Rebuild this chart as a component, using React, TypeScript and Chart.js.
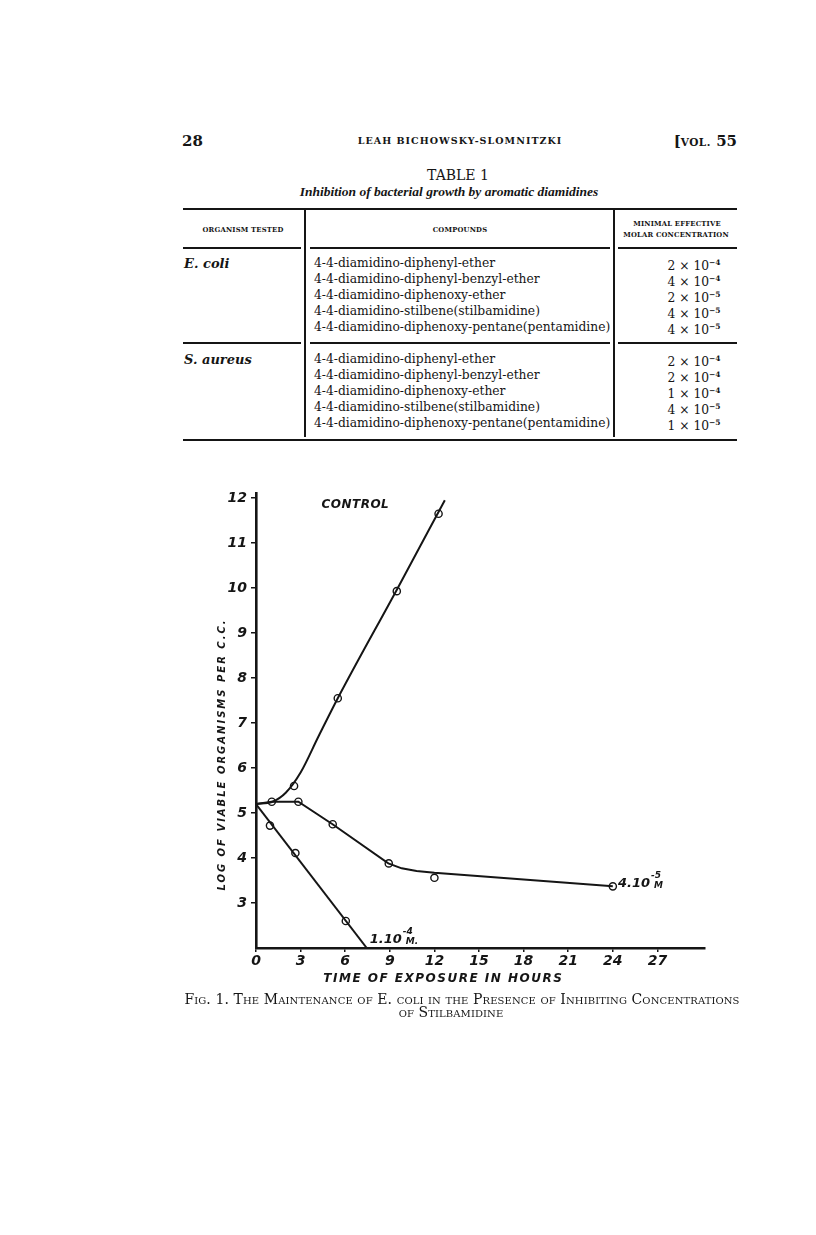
import React, { useEffect, useRef } from "react";
import { Chart, registerables } from "chart.js";

Chart.register(...registerables);

// ---------------- page & table content ----------------
const PAGE_NUMBER = "28";
const RUNNING_HEAD = "LEAH BICHOWSKY-SLOMNITZKI";
const VOLUME = "55";
const TABLE_TITLE = "TABLE 1";
const TABLE_CAPTION = "Inhibition of bacterial growth by aromatic diamidines";
const HEAD_ORGANISM = "ORGANISM TESTED";
const HEAD_COMPOUNDS = "COMPOUNDS";
const HEAD_CONC_1 = "MINIMAL EFFECTIVE";
const HEAD_CONC_2 = "MOLAR CONCENTRATION";
const ORGANISMS = ["E. coli", "S. aureus"];
const COMPOUNDS = [
  "4-4-diamidino-diphenyl-ether",
  "4-4-diamidino-diphenyl-benzyl-ether",
  "4-4-diamidino-diphenoxy-ether",
  "4-4-diamidino-stilbene(stilbamidine)",
  "4-4-diamidino-diphenoxy-pentane(pentamidine)",
];
const E_COLI_COEF = ["2", "4", "2", "4", "4"];
const E_COLI_EXP = ["4", "4", "5", "5", "5"];
const S_AUREUS_COEF = ["2", "2", "1", "4", "1"];
const S_AUREUS_EXP = ["4", "4", "4", "5", "5"];
const FIG_CAPTION_1 = "Fig. 1. The Maintenance of E. coli in the Presence of Inhibiting Concentrations";
const FIG_CAPTION_2 = "of Stilbamidine";

// ---------------- figure data ----------------
const X_TICKS = [0, 3, 6, 9, 12, 15, 18, 21, 24, 27];
const Y_TICKS = [3, 4, 5, 6, 7, 8, 9, 10, 11, 12];
const X_TITLE = "TIME OF EXPOSURE IN HOURS";
const Y_TITLE = "LOG OF VIABLE ORGANISMS PER C.C.";

// control: drawn curve and observed points
const CONTROL_LINE_X = [0, 1.1, 2.0, 3.0, 4.2, 5.5, 9.5, 12.7];
const CONTROL_LINE_Y = [5.2, 5.25, 5.45, 5.9, 6.7, 7.55, 9.98, 11.95];
const CONTROL_OBS_X = [1.06, 2.56, 5.5, 9.47, 12.28];
const CONTROL_OBS_Y = [5.25, 5.6, 7.55, 9.93, 11.65];

// 4.10^-5 M
const LOW_LINE_X = [0, 1.06, 2.85, 5.15, 8.9, 9.8, 10.8, 12.0, 24.0];
const LOW_LINE_Y = [5.2, 5.25, 5.25, 4.75, 3.88, 3.77, 3.71, 3.67, 3.37];
const LOW_OBS_X = [2.85, 5.16, 8.93, 12.0, 24.0];
const LOW_OBS_Y = [5.25, 4.75, 3.88, 3.56, 3.37];

// 1.10^-4 M
const HIGH_LINE_X = [0, 7.45];
const HIGH_LINE_Y = [5.2, 2.0];
const HIGH_OBS_X = [0.94, 2.65, 6.04];
const HIGH_OBS_Y = [4.72, 4.11, 2.6];

// label anchors in data units
const CONTROL_LABEL = "CONTROL";
const CONTROL_LABEL_AT = [4.4, 11.85];
const LOW_LABEL = ["4.10", "-5", "M"];
const LOW_LABEL_AT = [24.35, 3.42];
const HIGH_LABEL = ["1.10", "-4", "M."];
const HIGH_LABEL_AT = [7.65, 2.18];

const INK = "#151515";
const SERIF = '"DejaVu Serif", serif';
const TIMES = '"Liberation Serif", serif';
const HAND = '"DejaVu Sans", sans-serif';

const pts = (xs: number[], ys: number[]) => xs.map((x, i) => ({ x, y: ys[i] }));

const labelsPlugin = {
  id: "figLabels",
  afterDraw(chart: any) {
    const { ctx, scales, chartArea } = chart;
    const x = scales.x;
    const y = scales.y;
    ctx.save();
    ctx.fillStyle = INK;
    ctx.textBaseline = "middle";
    ctx.textAlign = "left";

    // CONTROL
    ctx.font = `italic bold 12px ${HAND}`;
    ctx.letterSpacing = "0.5px";
    ctx.fillText(CONTROL_LABEL, x.getPixelForValue(CONTROL_LABEL_AT[0]), y.getPixelForValue(CONTROL_LABEL_AT[1]));

    const drawConc = (parts: string[], at: number[]) => {
      const px = x.getPixelForValue(at[0]);
      const py = y.getPixelForValue(at[1]);
      ctx.letterSpacing = "0px";
      ctx.font = `italic bold 13px ${HAND}`;
      ctx.fillText(parts[0], px, py);
      const w = ctx.measureText(parts[0]).width;
      ctx.font = `italic bold 9px ${HAND}`;
      ctx.fillText(parts[1], px + w + 1, py - 8);
      ctx.fillText(parts[2], px + w + 4, py + 2);
    };
    drawConc(LOW_LABEL, LOW_LABEL_AT);
    drawConc(HIGH_LABEL, HIGH_LABEL_AT);

    // x title
    ctx.font = `italic bold 12px ${HAND}`;
    ctx.letterSpacing = "1.5px";
    ctx.textAlign = "center";
    ctx.fillText(X_TITLE, x.getPixelForValue(12.6), chartArea.bottom + 31);

    // y title
    ctx.font = `italic bold 10px ${HAND}`;
    ctx.letterSpacing = "2px";
    ctx.translate(chartArea.left - 34, y.getPixelForValue(6.3));
    ctx.rotate(-Math.PI / 2);
    ctx.fillText(Y_TITLE, 0, 0);
    ctx.restore();
  },
};

function Figure() {
  const ref = useRef<HTMLCanvasElement>(null);
  useEffect(() => {
    const canvas = ref.current;
    if (!canvas) return;
    const lineDs = (xs: number[], ys: number[], extra: any = {}) => ({
      type: "line",
      data: pts(xs, ys),
      borderColor: INK,
      borderWidth: 2,
      pointRadius: 0,
      fill: false,
      tension: 0,
      ...extra,
    });
    const obsDs = (xs: number[], ys: number[]) => ({
      type: "scatter",
      data: pts(xs, ys),
      pointRadius: 3.6,
      pointBorderWidth: 1.4,
      pointBackgroundColor: "#ffffff",
      pointBorderColor: INK,
      showLine: false,
    });
    const dotDs = (xs: number[], ys: number[]) => ({
      type: "scatter",
      data: pts(xs, ys),
      pointRadius: 1,
      pointBorderWidth: 0,
      pointBackgroundColor: INK,
      showLine: false,
    });
    const tickFont = { family: HAND, size: 14, style: "italic", weight: "bold" };
    const chart = new Chart(canvas, {
      type: "scatter",
      data: {
        datasets: [
          lineDs(CONTROL_LINE_X, CONTROL_LINE_Y, { cubicInterpolationMode: "monotone" }),
          lineDs(LOW_LINE_X, LOW_LINE_Y),
          lineDs(HIGH_LINE_X, HIGH_LINE_Y),
          obsDs(CONTROL_OBS_X, CONTROL_OBS_Y),
          obsDs(LOW_OBS_X, LOW_OBS_Y),
          obsDs(HIGH_OBS_X, HIGH_OBS_Y),
          dotDs(CONTROL_OBS_X, CONTROL_OBS_Y),
          dotDs(LOW_OBS_X, LOW_OBS_Y),
          dotDs(HIGH_OBS_X, HIGH_OBS_Y),
        ] as any,
      },
      options: {
        responsive: false,
        animation: false,
        devicePixelRatio: 1,
        layout: { padding: { left: 0, right: 15, top: 13.5, bottom: 0 } },
        plugins: { legend: { display: false }, tooltip: { enabled: false } },
        scales: {
          x: {
            type: "linear",
            min: 0,
            max: 30.2,
            afterBuildTicks: (s: any) => {
              s.ticks = X_TICKS.map((v) => ({ value: v }));
            },
            afterFit: (s: any) => {
              s.height = 52;
            },
            ticks: {
              autoSkip: false,
              maxRotation: 0,
              padding: 1,
              color: INK,
              font: tickFont as any,
              callback: (v: any) => String(v),
            },
            grid: { display: true, drawOnChartArea: false, drawTicks: true, tickLength: 4, color: INK, lineWidth: 1.5 },
            border: { display: true, color: INK, width: 2.6 },
          },
          y: {
            type: "linear",
            min: 2,
            max: 12.1,
            afterBuildTicks: (s: any) => {
              s.ticks = Y_TICKS.map((v) => ({ value: v }));
            },
            afterFit: (s: any) => {
              s.width = 66;
            },
            ticks: {
              autoSkip: false,
              padding: 4,
              color: INK,
              font: tickFont as any,
              callback: (v: any) => String(v),
            },
            grid: { display: true, drawOnChartArea: false, drawTicks: true, tickLength: 5, color: INK, lineWidth: 1.5 },
            border: { display: true, color: INK, width: 2.6 },
          },
        },
      } as any,
      plugins: [labelsPlugin as any],
    });
    return () => chart.destroy();
  }, []);
  return (
    <canvas
      ref={ref}
      width={530}
      height={520}
      style={{ position: "absolute", left: 190, top: 480, width: 530, height: 520 }}
    />
  );
}

type TProps = {
  x: number;
  y: number;
  size: number;
  align?: "left" | "center" | "right";
  style?: React.CSSProperties;
  children: React.ReactNode;
};

function T({ x, y, size, align = "left", style, children }: TProps) {
  const base: React.CSSProperties = {
    position: "absolute",
    top: y - size / 2,
    fontSize: size,
    lineHeight: `${size}px`,
    fontFamily: SERIF,
    color: INK,
    whiteSpace: "nowrap",
  };
  if (align === "left") base.left = x;
  if (align === "center") {
    base.left = x;
    base.transform = "translateX(-50%)";
  }
  if (align === "right") base.right = 816 - x;
  return <div style={{ ...base, ...style }}>{children}</div>;
}

function Rule({ x1, x2, y, h }: { x1: number; x2: number; y: number; h: number }) {
  return <div style={{ position: "absolute", left: x1, top: y - h / 2, width: x2 - x1, height: h, background: INK }} />;
}

function VRule({ x, y1, y2, w }: { x: number; y1: number; y2: number; w: number }) {
  return <div style={{ position: "absolute", left: x - w / 2, top: y1, width: w, height: y2 - y1, background: INK }} />;
}

function Conc({ coef, exp, y }: { coef: string; exp: string; y: number }) {
  return (
    <T x={694} y={y} size={12.3} align="center">
      {coef} × 10<sup style={{ fontSize: 7.5, verticalAlign: 5, fontWeight: "bold" }}>−{exp}</sup>
    </T>
  );
}

export default function App() {
  const L = 183;
  const R = 737;
  const D1 = 305;
  const D2 = 614;
  const rowY0 = [263, 359];
  const rowStep = 16;
  const headSmall: React.CSSProperties = { fontWeight: "bold", letterSpacing: 0.2 };
  return (
    <div style={{ position: "absolute", left: 0, top: 0, width: 816, height: 1235, background: "#fff", overflow: "hidden" }}>
      {/* running head */}
      <T x={182} y={141} size={15} style={{ fontWeight: "bold" }}>{PAGE_NUMBER}</T>
      <T x={460} y={141} size={9.5} align="center" style={{ fontWeight: "bold", letterSpacing: 1.05 }}>{RUNNING_HEAD}</T>
      <T x={737} y={141} size={15} align="right" style={{ fontWeight: "bold" }}>
        [<span style={{ fontSize: 10.5, letterSpacing: 0.5 }}>VOL.</span> {VOLUME}
      </T>

      {/* table title */}
      <T x={458} y={175} size={14} align="center">{TABLE_TITLE}</T>
      <T x={449} y={192} size={13.5} align="center" style={{ fontFamily: TIMES, fontStyle: "italic", fontWeight: "bold" }}>{TABLE_CAPTION}</T>

      <Rule x1={L} x2={R} y={209} h={2.2} />
      <VRule x={D1} y1={209} y2={437} w={1.3} />
      <VRule x={D2} y1={209} y2={437} w={1.3} />

      <T x={243} y={230} size={6.8} align="center" style={headSmall}>{HEAD_ORGANISM}</T>
      <T x={460} y={230} size={6.8} align="center" style={headSmall}>{HEAD_COMPOUNDS}</T>
      <T x={677} y={224} size={6.8} align="center" style={headSmall}>{HEAD_CONC_1}</T>
      <T x={676} y={235} size={6.8} align="center" style={headSmall}>{HEAD_CONC_2}</T>

      <Rule x1={L} x2={D1 - 4} y={248} h={1.3} />
      <Rule x1={D1 + 5} x2={D2 - 4} y={248} h={1.3} />
      <Rule x1={D2 + 4} x2={R} y={248} h={1.3} />

      {[0, 1].map((g) => (
        <React.Fragment key={g}>
          <T x={L + 1} y={rowY0[g]} size={13} style={{ fontStyle: "italic", fontWeight: "bold" }}>{ORGANISMS[g]}</T>
          {COMPOUNDS.map((c, i) => (
            <T key={c} x={314} y={rowY0[g] + i * rowStep} size={12.3}>{c}</T>
          ))}
          {COMPOUNDS.map((c, i) => (
            <Conc
              key={"c" + c}
              coef={(g === 0 ? E_COLI_COEF : S_AUREUS_COEF)[i]}
              exp={(g === 0 ? E_COLI_EXP : S_AUREUS_EXP)[i]}
              y={rowY0[g] + i * rowStep}
            />
          ))}
        </React.Fragment>
      ))}

      <Rule x1={L} x2={D1 - 4} y={343} h={1.3} />
      <Rule x1={D1 + 5} x2={D2 - 4} y={343} h={1.3} />
      <Rule x1={D2 + 4} x2={R} y={343} h={1.3} />
      <Rule x1={L} x2={R} y={440} h={2.2} />

      <Figure />

      <T x={462} y={999} size={14} align="center" style={{ fontVariant: "small-caps", letterSpacing: 0.1 }}>{FIG_CAPTION_1}</T>
      <T x={451} y={1012} size={14} align="center" style={{ fontVariant: "small-caps", letterSpacing: 0.1 }}>{FIG_CAPTION_2}</T>
    </div>
  );
}
